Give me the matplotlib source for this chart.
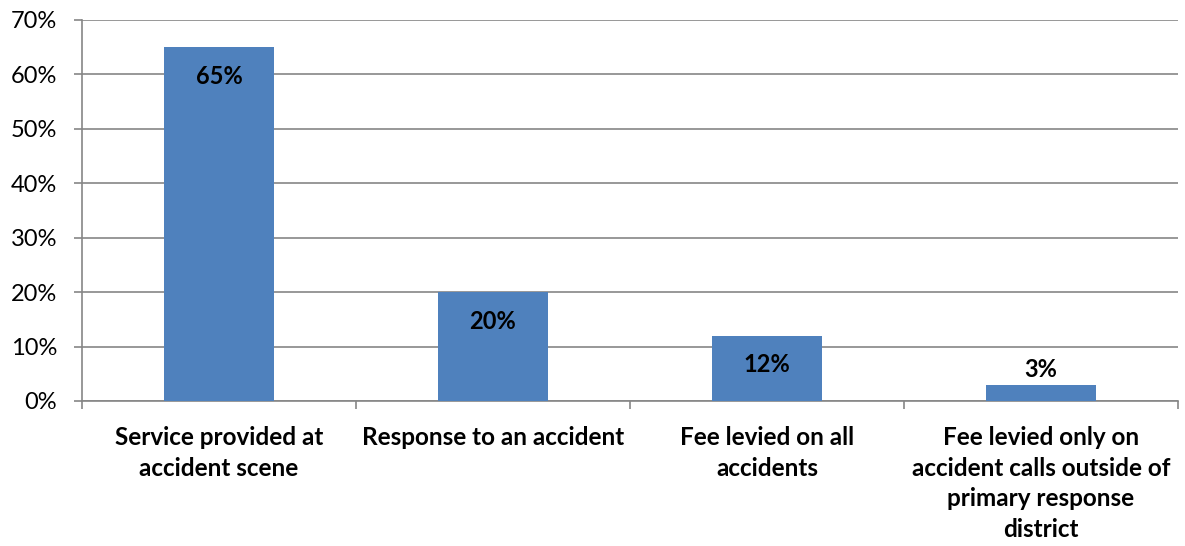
import matplotlib
matplotlib.use("Agg")
import matplotlib.pyplot as plt
from matplotlib.ticker import FixedLocator, PercentFormatter

categories = ["Service provided at\naccident scene",
              "Response to an accident",
              "Fee levied on all\naccidents",
              "Fee levied only on\naccident calls outside of\nprimary response\ndistrict"]
values = [65, 20, 12, 3]
yticks = [0, 10, 20, 30, 40, 50, 60, 70]

plt.rcParams['font.family'] = ['Lato', 'DejaVu Sans']

fig = plt.figure(figsize=(11.85, 5.46), dpi=100)
ax = fig.add_axes([0.0692, 0.2656, 0.9248, 0.6978])

x = list(range(len(values)))
bars = ax.bar(x, values, width=0.4, color="#4F81BD", zorder=3)

ax.set_xlim(-0.5, len(values) - 0.5)
ax.set_ylim(0, 70)
ax.set_yticks(yticks)
ax.yaxis.set_major_formatter(PercentFormatter(decimals=0))
ax.yaxis.grid(True, color="#868686", linewidth=1.2, zorder=0)
ax.tick_params(axis='y', labelsize=17, length=6, width=1.2, color="#868686", pad=12)

ax.set_xticks(x)
ax.set_xticklabels(categories, fontsize=17.5, fontweight='bold', linespacing=1.4)
ax.tick_params(axis='x', which='major', length=0, pad=18)
ax.xaxis.set_minor_locator(FixedLocator([i - 0.5 for i in range(len(values) + 1)]))
ax.tick_params(axis='x', which='minor', length=6, width=1.2, color="#868686")
for lbl in ax.get_xticklabels():
    lbl.set_verticalalignment('top')

for s in ['top', 'right']:
    ax.spines[s].set_visible(False)
for s in ['left', 'bottom']:
    ax.spines[s].set_color("#868686")
    ax.spines[s].set_linewidth(1.2)

for xi, v in zip(x, values):
    if v >= 8:
        ax.annotate(f"{v}%", (xi, v), xytext=(0, -21), textcoords='offset points',
                    ha='center', va='center', fontsize=17, fontweight='bold', zorder=4)
    else:
        ax.annotate(f"{v}%", (xi, v), xytext=(0, 11), textcoords='offset points',
                    ha='center', va='center', fontsize=17, fontweight='bold', zorder=4)

fig.savefig("out.png", dpi=100)
